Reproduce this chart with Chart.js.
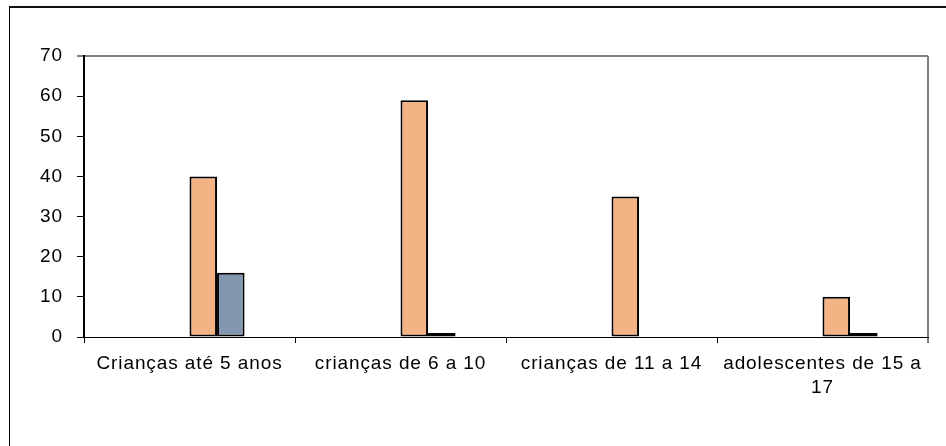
<!DOCTYPE html>
<html lang="pt">
<head>
    <meta charset="UTF-8">
    <title>Crianças e adolescentes</title>
    <style>
        body {
            margin: 0;
            background-color: #FFFFFF;
            font-family: Arial, "Liberation Sans", sans-serif;
        }
        .chart-container {
            width: 946px;
            height: 446px;
            position: relative;
        }
        .frame {
            position: absolute;
            left: 9px;
            top: 6px;
            right: -10px;
            bottom: -10px;
            border-top: 2px solid #111;
            border-left: 1px solid #000;
            pointer-events: none;
        }
    </style>
</head>
<body>
    <div class="chart-container">
        <canvas id="grupoChart"></canvas>
        <div class="frame"></div>
    </div>

    <script src="https://cdn.jsdelivr.net/npm/chart.js"></script>
    <script>
        // categorias e valores
        const categorias = [
            'Crianças até 5 anos',
            'crianças de 6 a 10',
            'crianças de 11 a 14',
            ['adolescentes de 15 a', '17']
        ];
        const serie1 = [null, null, null, null];
        const serie2 = [null, null, null, null];
        const serie3 = [40, 59, 35, 10];
        const serie4 = [16, 1, null, 1];
        const yTicks = [0, 10, 20, 30, 40, 50, 60, 70];

        const fonte = { family: 'Arial, "Liberation Sans", sans-serif', size: 19 };

        // espaçamento entre letras, como no original
        const spacingPlugin = {
            id: 'spacing',
            beforeLayout(chart) { chart.ctx.letterSpacing = '0.9px'; },
            beforeDraw(chart) { chart.ctx.letterSpacing = '0.9px'; }
        };

        const data = {
            labels: categorias,
            datasets: [
                { label: 'Série1', data: serie1, backgroundColor: '#999999' },
                { label: 'Série2', data: serie2, backgroundColor: '#999999' },
                { label: 'Série3', data: serie3, backgroundColor: '#F4B384' },
                { label: 'Série4', data: serie4, backgroundColor: '#8497B0' }
            ].map(ds => Object.assign(ds, {
                borderColor: '#000000',
                borderWidth: 2,
                borderSkipped: false,
                categoryPercentage: 0.522,
                barPercentage: 1.0
            }))
        };

        const config = {
            type: 'bar',
            data: data,
            options: {
                responsive: true,
                maintainAspectRatio: false,
                animation: false,
                layout: {
                    padding: { top: 56, right: 18, left: 0, bottom: 0 }
                },
                plugins: {
                    legend: { display: false },
                    tooltip: { enabled: false }
                },
                scales: {
                    x: {
                        offset: true,
                        grid: {
                            offset: true,
                            drawOnChartArea: true,
                            color: ctx => ctx.type === 'scale' ? '#808080' : 'rgba(0,0,0,0)',
                            lineWidth: ctx => ctx.type === 'scale' ? 2 : 1,
                            tickColor: '#000000',
                            tickWidth: 1,
                            tickLength: 6
                        },
                        border: { color: '#000000', width: 1 },
                        ticks: {
                            color: '#000000',
                            font: Object.assign({ lineHeight: 1.26 }, fonte),
                            padding: 9,
                            maxRotation: 0,
                            autoSkip: false
                        },
                        afterFit(scale) { scale.height = 109; }
                    },
                    y: {
                        min: 0,
                        max: 70,
                        afterBuildTicks(scale) {
                            scale.ticks = yTicks.map(v => ({ value: v }));
                        },
                        grid: {
                            drawOnChartArea: true,
                            color: ctx => (ctx.tick && ctx.tick.value === 70) ? '#808080' : 'rgba(0,0,0,0)',
                            lineWidth: ctx => (ctx.tick && ctx.tick.value === 70) ? 2 : 1,
                            tickColor: '#000000',
                            tickWidth: 1,
                            tickLength: 7
                        },
                        border: { color: '#000000', width: 2 },
                        ticks: {
                            color: '#000000',
                            font: fonte,
                            padding: 14
                        },
                        afterFit(scale) { scale.width = 84; }
                    }
                }
            },
            plugins: [spacingPlugin]
        };

        const grupoChart = new Chart(document.getElementById('grupoChart'), config);
    </script>
</body>
</html>
